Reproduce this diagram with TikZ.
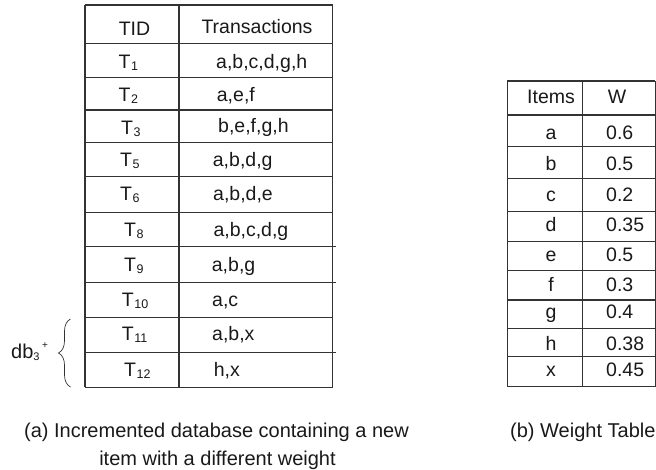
\documentclass[tikz,border=0pt]{standalone}
\usepackage{fontspec}
\setmainfont{Liberation Sans}
\usetikzlibrary{decorations.pathreplacing}
\newcommand\sbs[1]{\kern0.6pt\raisebox{-2pt}{\fontsize{12.5}{12.5}\selectfont #1}}
\begin{document}
\begin{tikzpicture}[x=1pt,y=-1pt,
  gridline/.style={line width=1.15pt,black!80},
  txt/.style={inner sep=0pt,anchor=base west,font=\fontsize{19.5}{22}\selectfont,text=black!90},
  ctxt/.style={inner sep=0pt,anchor=base,font=\fontsize{19.5}{22}\selectfont,text=black!90},
  captxt/.style={inner sep=0pt,font=\fontsize{20}{22}\selectfont,text=black!90}]
\useasboundingbox (0,0) rectangle (656,469);
% ---- left table ----
\foreach \yy in {5,43.3,77.3,110,142.7,176.7,212.3,317.3,387.3}
  \draw[gridline] (85,\yy) -- (332.7,\yy);
\foreach \yy in {246.7,282.3,352.3}
  \draw[gridline] (85,\yy) -- (335.7,\yy);
\foreach \xx in {85,179,332.7}
  \draw[gridline] (\xx,5) -- (\xx,387.3);
\node[ctxt] (hTID) at (134.5,35.5) {TID};
\node[ctxt] (hTr) at (257,33.5) {Transactions};
\node[txt] (t1) at (118.3,68.3) {T\sbs{1}};
\node[txt] (t2) at (118.3,101.7) {T\sbs{2}};
\node[txt] (t3) at (121,134.3) {T\sbs{3}};
\node[txt] (t5) at (120,166.7) {T\sbs{5}};
\node[txt] (t6) at (120,200) {T\sbs{6}};
\node[txt] (t8) at (124,236.7) {T\sbs{8}};
\node[txt] (t9) at (124,271.7) {T\sbs{9}};
\node[txt] (t10) at (121.7,306.7) {T\sbs{10}};
\node[txt] (t11) at (121.7,340.7) {T\sbs{11}};
\node[txt] (t12) at (124,376) {T\sbs{12}};
\node[txt] (r1) at (216,68.3) {a,b,c,d,g,h};
\node[txt] (r2) at (216.7,101.7) {a,e,f};
\node[txt] (r3) at (218,132.5) {b,e,f,g,h};
\node[txt] (r5) at (212.7,166.7) {a,b,d,g};
\node[txt] (r6) at (213,200) {a,b,d,e};
\node[txt] (r8) at (213.3,236.7) {a,b,c,d,g};
\node[txt] (r9) at (211.7,271.7) {a,b,g};
\node[txt] (r10) at (212,306.7) {a,c};
\node[txt] (r11) at (212,340.7) {a,b,x};
\node[txt] (r12) at (213.7,376) {h,x};
% brace and label
\coordinate (bbot) at (70.5,387);
\coordinate (btop) at (70.5,319);
\draw[line width=0.7pt,black!80,decorate,decoration={brace,amplitude=12pt,aspect=0.5}] (bbot) -- (btop);
\node[inner sep=0pt,anchor=base west,font=\fontsize{20}{22}\selectfont,text=black!90] (db) at (11,358.3)
  {db\raisebox{-2.4pt}{\fontsize{11}{11}\selectfont 3}\kern2.5pt\raisebox{9.6pt}{\fontsize{10}{10}\selectfont +}};
% ---- right table ----
\foreach \yy in {81,115,146.7,178.3,211.7,241.7,270.7,300,328.3,356.7,386.7}
  \draw[gridline] (507.3,\yy) -- (655.4,\yy);
\foreach \xx in {507.3,582.7,655.4}
  \draw[gridline] (\xx,81) -- (\xx,386.7);
\node[ctxt] (hItems) at (551,103.3) {Items};
\node[ctxt] (hW) at (617,103.3) {W};
\node[ctxt] (ia) at (551,139) {a};
\node[ctxt] (ib) at (551,170) {b};
\node[ctxt] (ic) at (551,201) {c};
\node[ctxt] (id) at (551,231.7) {d};
\node[ctxt] (ie) at (551,261) {e};
\node[ctxt] (if) at (551,291) {f};
\node[ctxt] (ig) at (551,318.3) {g};
\node[ctxt] (ih) at (551,350) {h};
\node[ctxt] (ix) at (551,376.7) {x};
\node[txt] (wa) at (606,139) {0.6};
\node[txt] (wb) at (606,170) {0.5};
\node[txt] (wc) at (606,201) {0.2};
\node[txt] (wd) at (606,231.7) {0.35};
\node[txt] (we) at (606,261) {0.5};
\node[txt] (wf) at (606,291) {0.3};
\node[txt] (wg) at (606,318.3) {0.4};
\node[txt] (wh) at (606,350) {0.38};
\node[txt] (wx) at (606,376.7) {0.45};
% ---- captions ----
\node[captxt,anchor=base] (capa1) at (216.5,437) {(a) Incremented database containing a new};
\node[captxt,anchor=base] (capa2) at (217.5,465) {item with a different weight};
\node[captxt,anchor=base west] (capb) at (510,437) {(b) Weight Table};
\end{tikzpicture}
\end{document}
